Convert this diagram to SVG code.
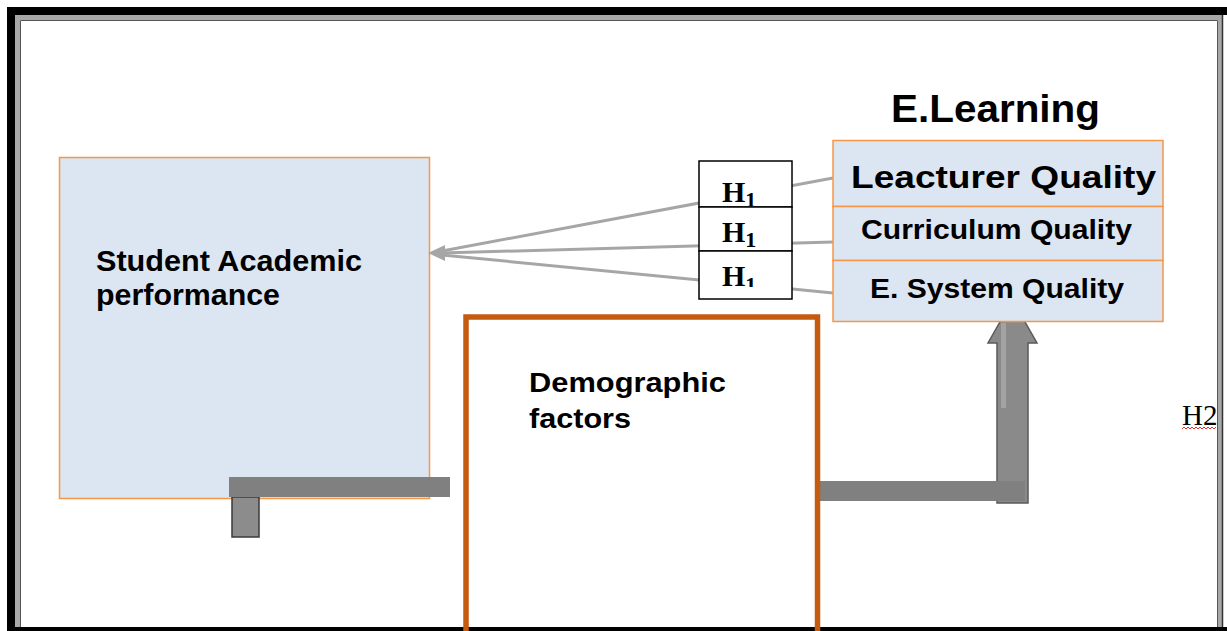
<svg xmlns="http://www.w3.org/2000/svg" width="1227" height="631" viewBox="0 0 1227 631">
  <style>
    .sans { font-family: "Liberation Sans", Arial, sans-serif; font-weight: bold; fill: #000; }
    .serif { font-family: "Liberation Serif", "Times New Roman", serif; fill: #000; }
    .panel { fill: #dce6f2; stroke: #f79646; stroke-width: 1.5; }
    .hbox { fill: #fff; stroke: #000; stroke-width: 1.5; }
    .link { stroke: #a6a6a6; stroke-width: 3; fill: none; }
    .bar { fill: #808080; }
  </style>
  <defs>
    <clipPath id="clipH1"><rect x="699" y="161" width="93" height="45"/></clipPath>
    <clipPath id="clipH3"><rect x="699" y="251" width="93" height="36"/></clipPath>
  </defs>

  <!-- page frame -->
  <g id="frame">
    <rect x="0" y="0" width="1227" height="631" fill="#fff"/>
    <rect x="7" y="7" width="1220" height="8" fill="#000"/>
    <rect x="7" y="7" width="8" height="624" fill="#000"/>
    <rect x="15" y="627" width="1212" height="4" fill="#000"/>
    <rect x="15" y="15" width="1207" height="5" fill="#a8a8a8"/>
    <rect x="15" y="15" width="5" height="612" fill="#a8a8a8"/>
    <rect x="1218" y="15" width="4" height="612" fill="#a8a8a8"/>
    <polyline points="20.5,627 20.5,20.5 1217.5,20.5 1217.5,627" fill="none" stroke="#555" stroke-width="1"/>
    <line x1="1222.5" y1="15" x2="1222.5" y2="627" stroke="#333" stroke-width="1.5"/>
  </g>

  <!-- Student Academic performance -->
  <g id="student">
    <rect class="panel" x="59.5" y="157.5" width="370" height="341"/>
    <text class="sans" x="96" y="271" font-size="30" textLength="266" lengthAdjust="spacingAndGlyphs">Student Academic</text>
    <text class="sans" x="96" y="305" font-size="30" textLength="184" lengthAdjust="spacingAndGlyphs">performance</text>
  </g>

  <!-- connectors -->
  <g id="connectors">
    <line class="link" x1="833" y1="178" x2="442" y2="251"/>
    <line class="link" x1="833" y1="242" x2="442" y2="253"/>
    <line class="link" x1="833" y1="293" x2="442" y2="255"/>
    <polygon points="428,253 445,245 445,261" fill="#a6a6a6"/>

    <!-- block arrow: demographic factors to student performance -->
    <rect x="232" y="497" width="27" height="40" fill="#8c8c8c" stroke="#3a3a3a" stroke-width="1.5"/>
    <rect class="bar" x="229" y="477" width="221" height="20"/>

    <!-- block arrow: demographic factors to e-learning -->
    <polygon points="997,503 997,343 988,343 1012.5,300 1037,343 1028,343 1028,503" fill="#8a8a8a" stroke="#5a5a5a" stroke-width="1.5"/>
    <rect x="1001" y="323" width="5" height="85" fill="#a3a3a3"/>
    <rect class="bar" x="820" y="481" width="205" height="20"/>
  </g>

  <!-- hypothesis boxes -->
  <g id="h-boxes">
    <rect class="hbox" x="699" y="161" width="93" height="46"/>
    <rect class="hbox" x="699" y="207" width="93" height="44"/>
    <rect class="hbox" x="699" y="251" width="93" height="48"/>
    <text class="serif" font-weight="bold" x="722" y="202" font-size="30" clip-path="url(#clipH1)">H<tspan dy="5" font-size="22">1</tspan></text>
    <text class="serif" font-weight="bold" x="722" y="242" font-size="30">H<tspan dy="5" font-size="22">1</tspan></text>
    <text class="serif" font-weight="bold" x="722" y="286" font-size="30" clip-path="url(#clipH3)">H<tspan dy="6" font-size="22">1</tspan></text>
  </g>

  <!-- E.Learning block -->
  <g id="elearning">
    <text class="sans" x="891" y="122" font-size="38" textLength="209" lengthAdjust="spacingAndGlyphs">E.Learning</text>
    <rect class="panel" x="833" y="140.5" width="330" height="66"/>
    <rect class="panel" x="833" y="206.5" width="330" height="54"/>
    <rect class="panel" x="833" y="260.5" width="330" height="61"/>
    <text class="sans" x="851" y="188" font-size="32" textLength="305" lengthAdjust="spacingAndGlyphs">Leacturer Quality</text>
    <text class="sans" x="861" y="239" font-size="27" textLength="271" lengthAdjust="spacingAndGlyphs">Curriculum Quality</text>
    <text class="sans" x="870" y="298" font-size="28" textLength="254" lengthAdjust="spacingAndGlyphs">E. System Quality</text>
  </g>

  <!-- Demographic factors -->
  <g id="demographic">
    <rect x="466" y="317" width="351.5" height="330" fill="none" stroke="#c55a11" stroke-width="5.5"/>
    <text class="sans" x="529" y="392" font-size="28" textLength="197" lengthAdjust="spacingAndGlyphs">Demographic</text>
    <text class="sans" x="529" y="428" font-size="28" textLength="102" lengthAdjust="spacingAndGlyphs">factors</text>
  </g>

  <!-- H2 label -->
  <g id="h2-label">
    <text class="serif" x="1182" y="425" font-size="29">H2</text>
    <path d="M1182,429 l2,-2 l2,2 l2,-2 l2,2 l2,-2 l2,2 l2,-2 l2,2 l2,-2 l2,2 l2,-2 l2,2 l2,-2 l2,2 l2,-2 l2,2 l2,-2" fill="none" stroke="#e03030" stroke-width="1"/>
  </g>
</svg>
